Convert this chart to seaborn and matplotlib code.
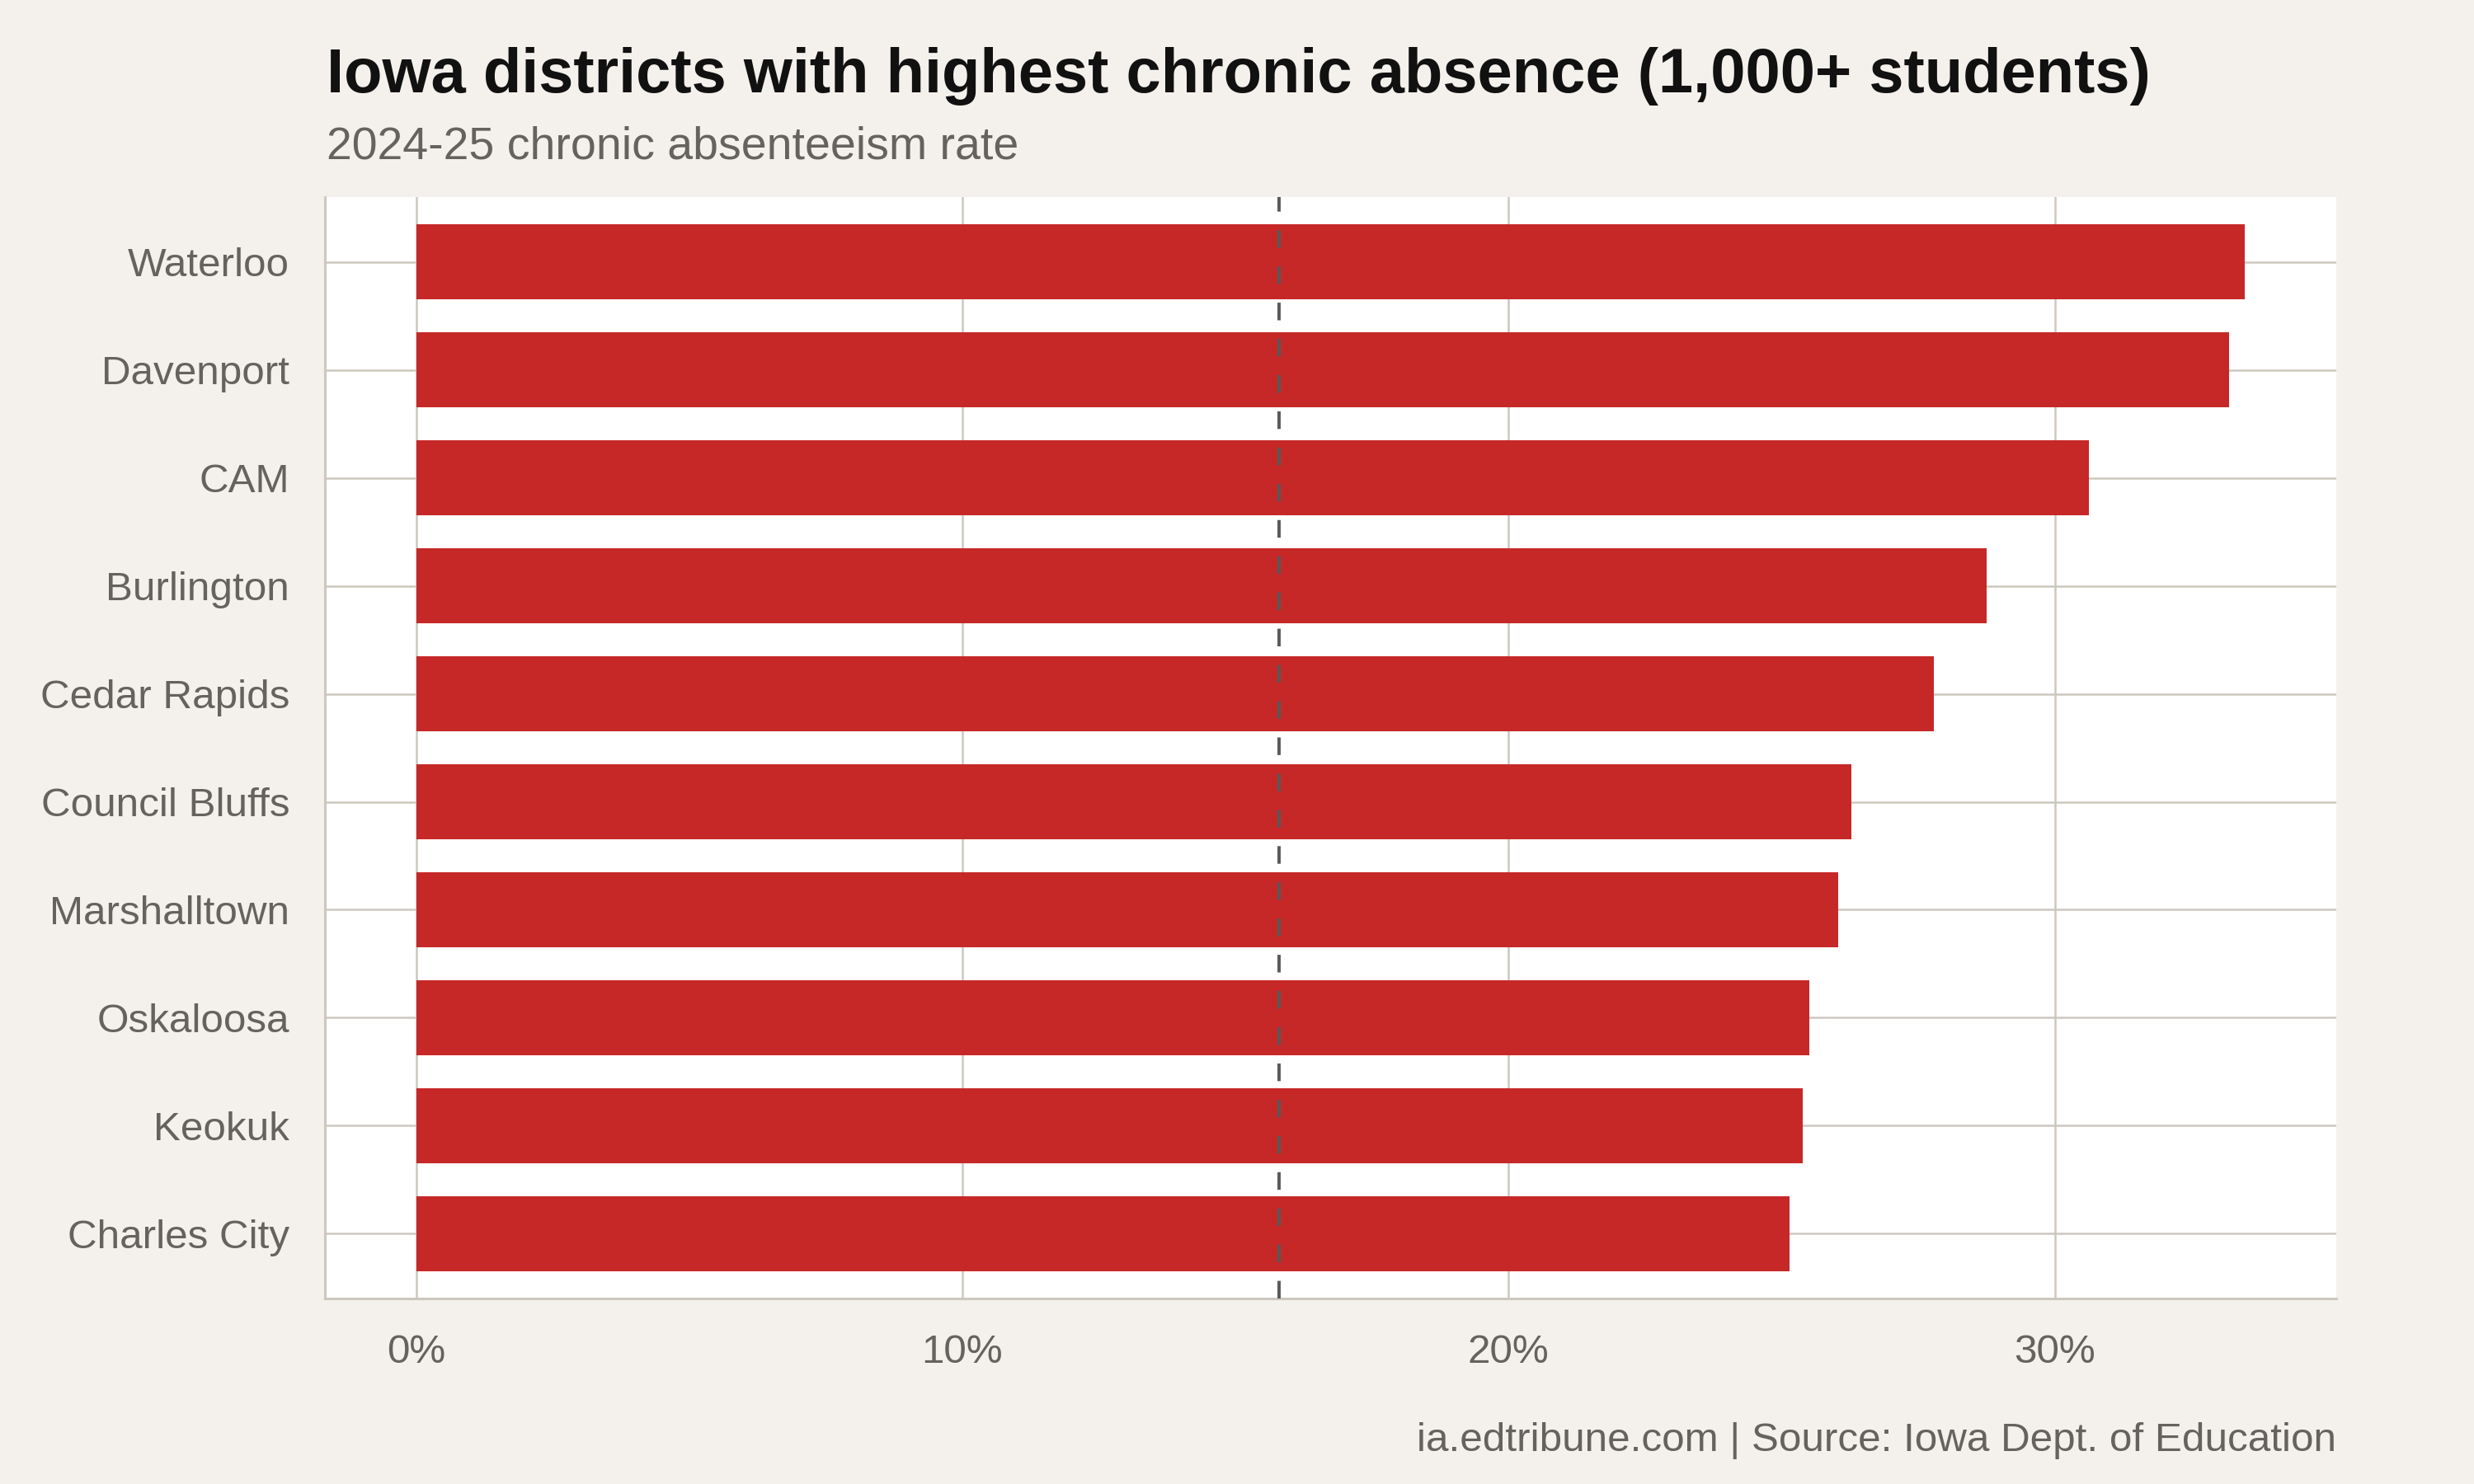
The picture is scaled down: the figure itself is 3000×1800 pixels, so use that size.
import matplotlib
matplotlib.use("Agg")
import matplotlib.pyplot as plt
from matplotlib.ticker import FuncFormatter
import pandas as pd
import seaborn as sns

# chronic absenteeism rate, 2024-25 (percent)
districts = ["Waterloo", "Davenport", "CAM", "Burlington", "Cedar Rapids",
             "Council Bluffs", "Marshalltown", "Oskaloosa", "Keokuk", "Charles City"]
rates = [33.48, 33.19, 30.63, 28.76, 27.79, 26.28, 26.03, 25.50, 25.38, 25.15]
state_rate = 15.8
x_ticks = [0, 10, 20, 30]

BG = "#f4f1ec"
GRID = "#cdc8bf"
TEXT = "#66635e"
BAR = "#c62828"

sns.set_style("white")
plt.rcParams["font.family"] = ["Liberation Sans", "DejaVu Sans"]

df = pd.DataFrame({"district": districts, "rate": rates})

fig = plt.figure(figsize=(15, 9), dpi=200, facecolor=BG)
ax = fig.add_axes([0.1313, 0.125, 0.8130, 0.7422])
ax.set_facecolor("white")

sns.barplot(data=df, x="rate", y="district", order=districts, color=BAR,
            width=0.7, saturation=1, edgecolor="none", ax=ax, zorder=2)

# reference line for the statewide rate
ax.axvline(state_rate, color="#58585a", lw=1.4, dashes=(5.5, 5.8), zorder=3)

# ggplot-style 5% expansion on x, 0.6 on discrete y
span = max(rates)
ax.set_xlim(-0.05 * span, span * 1.05)
ax.set_ylim(len(districts) - 0.4, -0.6)

ax.set_xticks(x_ticks)
ax.xaxis.set_major_formatter(FuncFormatter(lambda v, p: f"{v:.0f}%"))
ax.set_axisbelow(True)
ax.grid(True, color=GRID, lw=0.9)

for side in ["top", "right"]:
    ax.spines[side].set_visible(False)
for side in ["left", "bottom"]:
    ax.spines[side].set_color(GRID)
    ax.spines[side].set_linewidth(1.1)

ax.tick_params(axis="both", length=5.4, width=0.9, color=GRID, pad=10,
               labelsize=17.8, labelcolor=TEXT)
ax.set_xlabel("")
ax.set_ylabel("")

fig.text(0.132, 0.938, "Iowa districts with highest chronic absence (1,000+ students)",
         fontsize=27.3, fontweight="bold", color="#111111", ha="left", va="baseline")
fig.text(0.132, 0.893, "2024-25 chronic absenteeism rate",
         fontsize=20, color=TEXT, ha="left", va="baseline")
fig.text(0.9443, 0.022, "ia.edtribune.com | Source: Iowa Dept. of Education",
         fontsize=17.8, color=TEXT, ha="right", va="baseline")

fig.savefig("out.png", dpi=200, facecolor=BG)
